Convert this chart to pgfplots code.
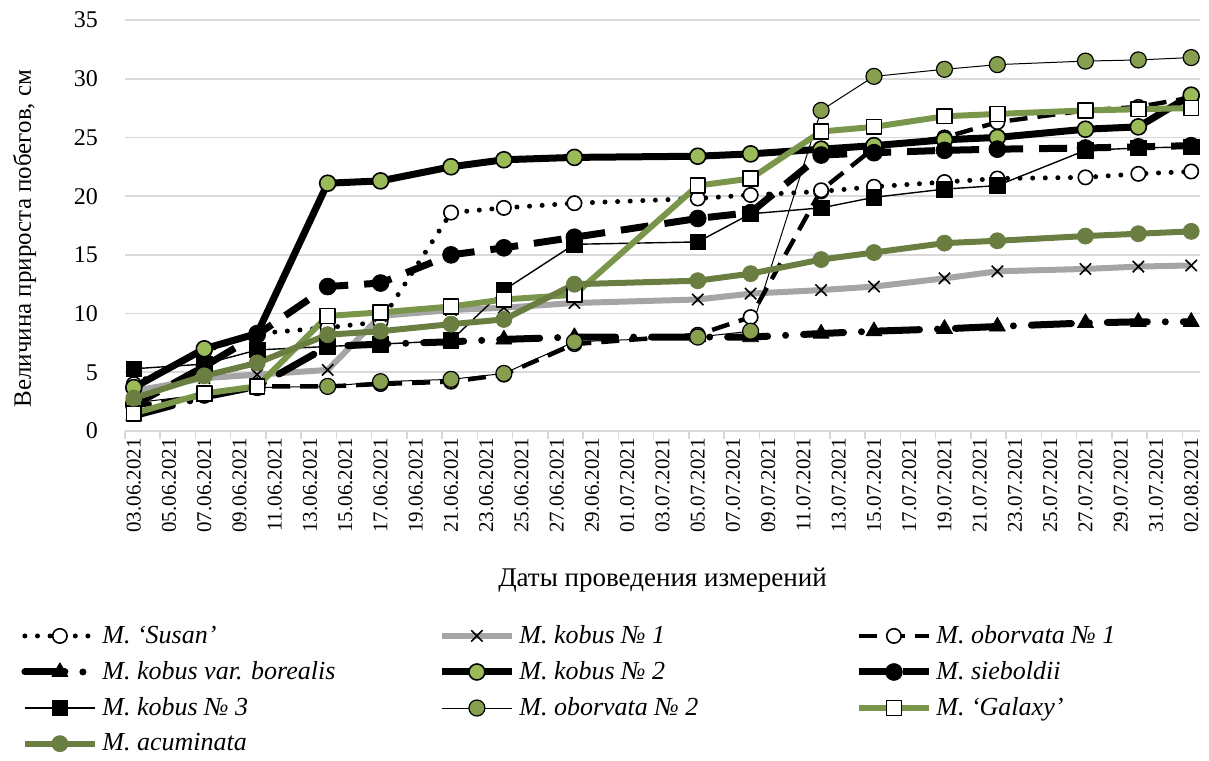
\documentclass[border=0pt]{standalone}
\usepackage{fontspec}
\setmainfont{Liberation Serif}
\usepackage{pgfplots}
\usepackage{pgfplotstable}
\pgfplotsset{compat=1.18}

\definecolor{gridgray}{HTML}{D9D9D9}
\definecolor{kgray}{HTML}{A5A5A5}
\definecolor{lightgreen}{HTML}{9BBB59}
\definecolor{midgreen}{HTML}{87A050}
\definecolor{galaxy}{HTML}{7A964A}
\definecolor{acum}{HTML}{6A7E42}

% day = days since 03.06.2021
\pgfplotstableread{
day susan kobusA oborA borealis kobusB sieboldii kobusC oborB galaxy acuminata
0   4.0   3.4    2.1   1.3      3.7    2.2       5.3    2.4   1.5    2.8
4   6.8   4.5    3.0   2.9      7.0    5.5       5.7    3.1   3.2    4.7
7   8.3   4.8    3.8   3.8      8.3    8.2       6.9    3.7   3.8    5.8
11  8.8   5.2    3.8   7.2      21.1   12.3      7.2    3.8   9.8    8.2
14  9.3   9.8    4.0   7.4      21.3   12.6      7.4    4.2   10.1   8.5
18  18.6  10.3   4.2   7.6      22.5   15.0      7.7    4.4   10.6   9.1
21  19.0  10.5   4.8   7.8      23.1   15.6      12.0   4.9   11.2   9.5
25  19.4  10.9   7.4   8.0      23.3   16.5      15.9   7.6   11.6   12.5
32  19.8  11.2   8.2   8.0      23.4   18.1      16.1   8.0   20.9   12.8
35  20.1  11.7   9.7   8.0      23.6   18.6      18.5   8.5   21.5   13.4
39  20.4  12.0   20.5  8.3      24.0   23.5      19.0   27.3  25.5   14.6
42  20.8  12.3   24.1  8.5      24.3   23.7      19.9   30.2  25.9   15.2
46  21.2  13.0   25.0  8.7      24.8   23.9      20.6   30.8  26.8   16.0
49  21.5  13.6   26.3  8.9      25.0   24.0      20.9   31.2  27.0   16.2
54  21.6  13.8   27.3  9.2      25.7   24.1      23.9   31.5  27.3   16.6
57  21.9  14.0   27.6  9.3      25.9   24.2      24.1   31.6  27.4   16.8
60  22.1  14.1   28.4  9.3      28.6   24.3      24.2   31.8  27.5   17.0
}\growth

\newcommand{\leg}[1]{\makebox[166pt][l]{\itshape #1}}

\begin{document}
\begin{tikzpicture}
\begin{axis}[
  scale only axis,
  width=537.5pt, height=205.5pt,
  xmin=-0.5, xmax=60.5, ymin=0, ymax=35,
  separate axis lines,
  axis x line*=bottom, axis y line*=left,
  x axis line style={gridgray, line width=0.9pt},
  y axis line style={draw=none},
  ytick={0,5,...,35},
  ymajorgrids, grid style={gridgray, line width=0.9pt},
  xtick={0,2,...,60},
  xticklabels={03.06.2021,05.06.2021,07.06.2021,09.06.2021,11.06.2021,13.06.2021,15.06.2021,17.06.2021,19.06.2021,21.06.2021,23.06.2021,25.06.2021,27.06.2021,29.06.2021,01.07.2021,03.07.2021,05.07.2021,07.07.2021,09.07.2021,11.07.2021,13.07.2021,15.07.2021,17.07.2021,19.07.2021,21.07.2021,23.07.2021,25.07.2021,27.07.2021,29.07.2021,31.07.2021,02.08.2021},
  minor xtick={-0.5,1.5,...,59.5},
  tick align=outside,
  major tick length=0pt, minor tick length=4pt,
  minor tick style={gridgray, line width=0.75pt},
  /pgf/number format/assume math mode=true,
  yticklabel style={font=\fontsize{12}{14}\selectfont, xshift=-10pt},
  xticklabel style={rotate=90, anchor=east, font=\fontsize{10.5}{12}\selectfont},
  xlabel={Даты проведения измерений},
  ylabel={Величина прироста побегов, см},
  xlabel style={font=\fontsize{13.5}{15}\selectfont, yshift=-11pt},
  ylabel style={font=\fontsize{12.5}{14}\selectfont, yshift=12pt, xshift=-6.5pt},
  legend columns=3,
  legend cell align=left,
  legend style={at={(0,0)}, anchor=north west, xshift=-55pt, yshift=-93pt,
    draw=none, fill=none, font=\fontsize{13}{15}\selectfont,
    row sep=3.5pt},
  legend image code/.code={%
    \draw[mark repeat=2,mark phase=2] plot coordinates {(0pt,0pt) (17.5pt,0pt) (35pt,0pt)};},
  every axis plot/.append style={line join=round},
]
\addplot[black, line width=2.5pt, line cap=round, dash pattern=on 0pt off 6.3pt,
  mark=*, mark size=3.6pt, mark options={solid, fill=white, draw=black, line width=0.8pt}]
  table[x=day, y=susan] {\growth};
\addlegendentry{\leg{M. ‘Susan’}}

\addplot[kgray, line width=3pt,
  mark=x, mark size=4pt, mark options={solid, draw=black, line width=0.8pt}]
  table[x=day, y=kobusA] {\growth};
\addlegendentry{\leg{M. kobus № 1}}

\addplot[black, line width=2.2pt, dash pattern=on 9pt off 5pt,
  mark=*, mark size=3.6pt, mark options={solid, fill=white, draw=black, line width=0.8pt}]
  table[x=day, y=oborA] {\growth};
\addlegendentry{\leg{M. oborvata № 1}}

\addplot[black, line width=3.5pt, line cap=round, dash pattern=on 20pt off 9pt on 0pt off 9pt,
  mark=triangle*, mark size=4.6pt, mark options={solid, fill=black, draw=black, line width=0.4pt}]
  table[x=day, y=borealis] {\growth};
\addlegendentry{\leg{M. kobus var. borealis}}

\addplot[black, line width=3.5pt,
  mark=*, mark size=4pt, mark options={solid, fill=lightgreen, draw=black, line width=0.8pt}]
  table[x=day, y=kobusB] {\growth};
\addlegendentry{\leg{M. kobus № 2}}

\addplot[black, line width=3.5pt, dash pattern=on 14pt off 8pt,
  mark=*, mark size=4.2pt, mark options={solid, fill=black, draw=black, line width=0.4pt}]
  table[x=day, y=sieboldii] {\growth};
\addlegendentry{\leg{M. sieboldii}}

\addplot[black, line width=0.7pt,
  mark=square*, mark size=3.9pt, mark options={solid, fill=black, draw=black, line width=0.4pt}]
  table[x=day, y=kobusC] {\growth};
\addlegendentry{\leg{M. kobus № 3}}

\addplot[black, line width=0.5pt,
  mark=*, mark size=4pt, mark options={solid, fill=midgreen, draw=black, line width=0.6pt}]
  table[x=day, y=oborB] {\growth};
\addlegendentry{\leg{M. oborvata № 2}}

\addplot[galaxy, line width=3pt,
  mark=square*, mark size=3.7pt, mark options={solid, fill=white, draw=black, line width=0.8pt}]
  table[x=day, y=galaxy] {\growth};
\addlegendentry{\leg{M. ‘Galaxy’}}

\addplot[acum, line width=3pt,
  mark=*, mark size=4pt, mark options={solid, fill=acum, draw=acum, line width=0.4pt}]
  table[x=day, y=acuminata] {\growth};
\addlegendentry{\leg{M. acuminata}}
\end{axis}
\pgfresetboundingbox
\path (current axis.south west) ++(-62.5pt,-164.5pt) rectangle (current axis.north east);
\path (current axis.north east) ++(4.5pt,10pt);
\end{tikzpicture}
\end{document}
